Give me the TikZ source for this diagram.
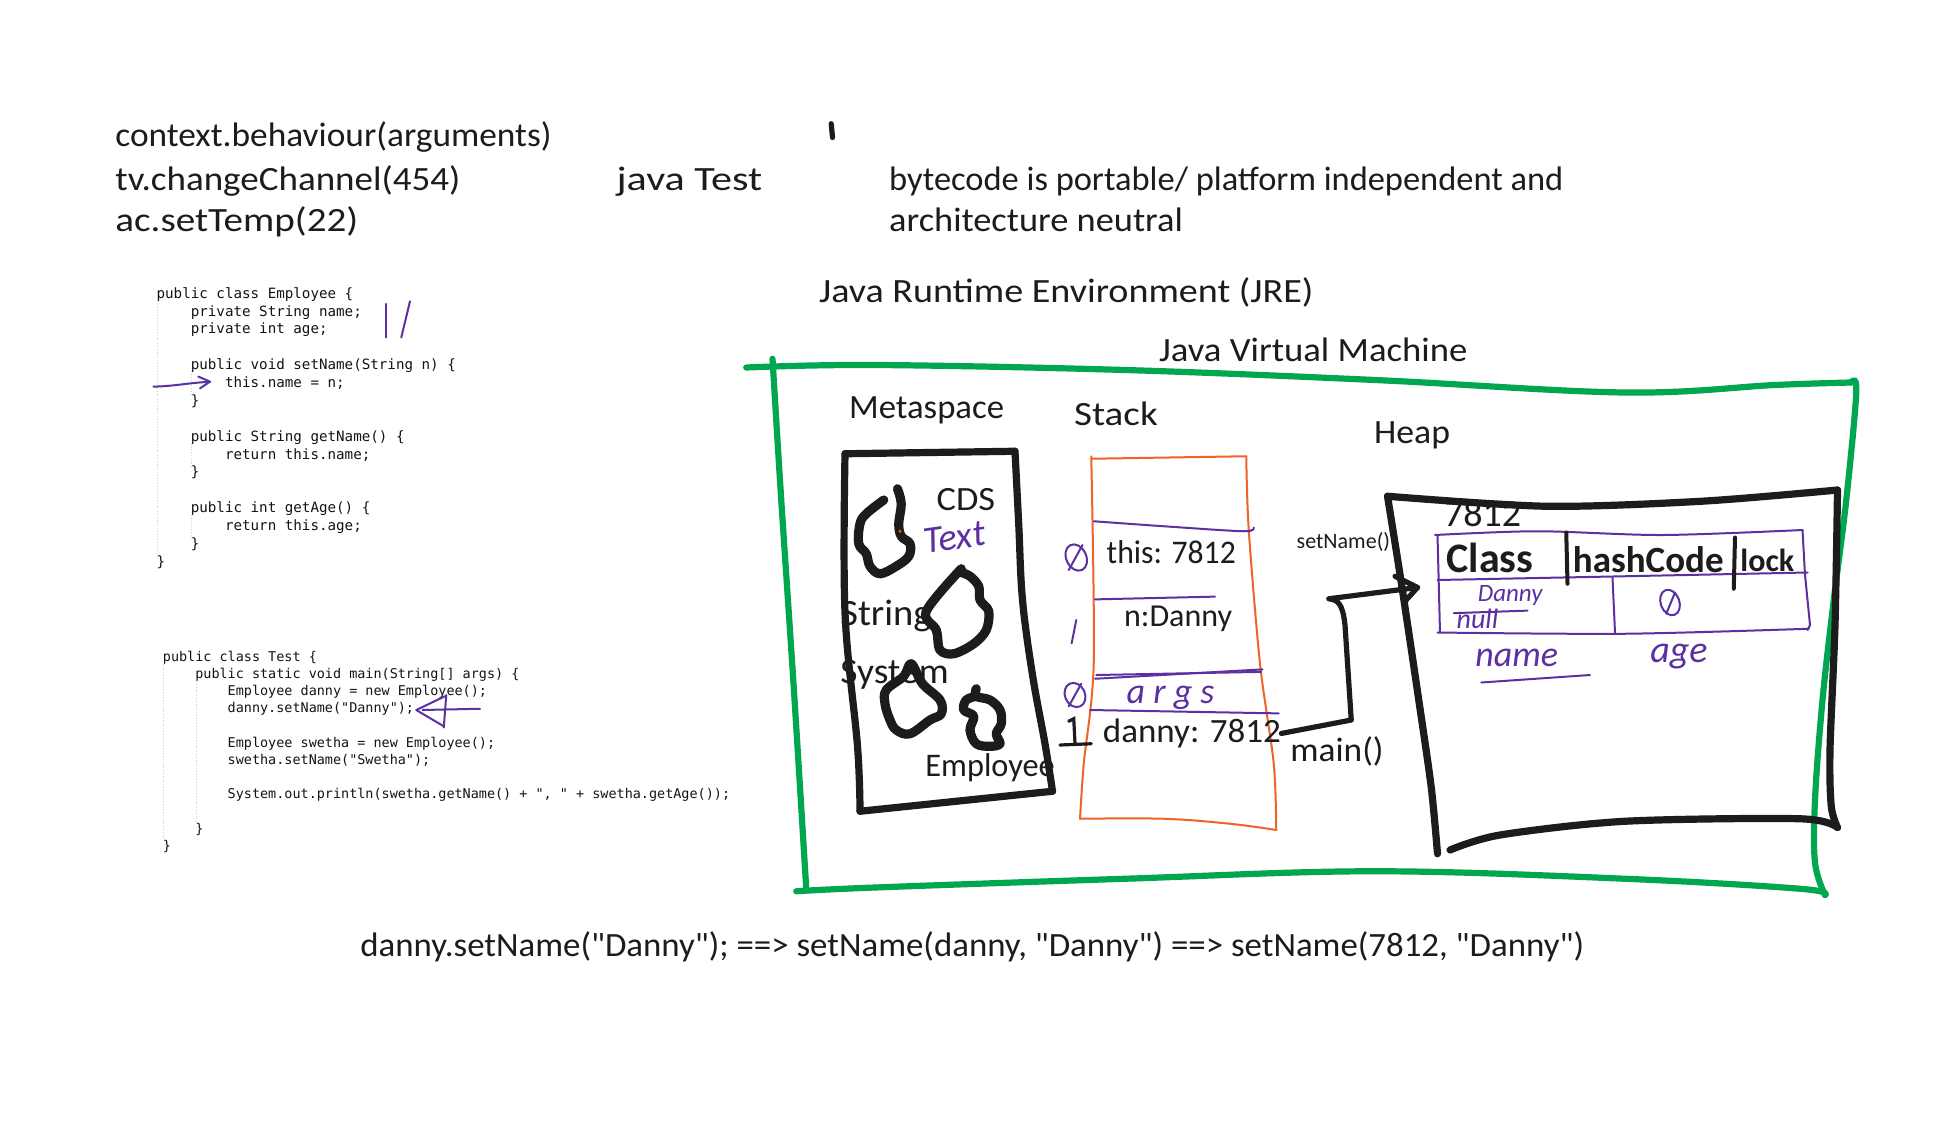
\documentclass[tikz,border=0pt]{standalone}
\usepackage{graphicx}
\usepackage{fontspec}
\setmainfont{Carlito}[Ligatures=TeXOff]
\newfontfamily\codefont{DejaVu Sans Mono}
\newcommand\sx[2]{\scalebox{#1}[1]{#2}}
\definecolor{ink}{RGB}{28,28,28}
\definecolor{codeink}{RGB}{20,20,20}
\definecolor{jvmgreen}{RGB}{0,166,80}
\definecolor{penpurple}{RGB}{92,48,160}
\definecolor{penorange}{RGB}{242,98,38}
\begin{document}
\begin{tikzpicture}[x=0.625pt,y=-0.625pt,
  hw/.style={font=\fontsize{17}{20}\selectfont,text=ink,inner sep=0pt,anchor=base west},
  hwp/.style={font=\fontsize{17}{20}\selectfont\itshape,text=penpurple,inner sep=0pt,anchor=base west},
  codeblk/.style={text=codeink,align=left,inner sep=0pt,anchor=north west},
  guide/.style={draw=gray!40,densely dotted,line width=0.4pt},
  jvmline/.style={draw=jvmgreen,line width=3.1pt,line cap=round,line join=round},
  blackbox/.style={draw=ink,line width=3.6pt,line cap=round,line join=round},
  blob/.style={draw=ink,line width=4.6pt,line cap=round,line join=round},
  stackline/.style={draw=penorange,line width=1pt,line cap=round,line join=round},
  pen/.style={draw=penpurple,line width=1pt,line cap=round,line join=round},
  conn/.style={draw=ink,line width=2.6pt,line cap=round,line join=round}]
\useasboundingbox (0,0) rectangle (1568,900);
\fill[white] (0,0) rectangle (1568,900);

% ---------- top notes ----------
\node[hw] (t1) at (92,117) {\sx{1.04}{context.behaviour(arguments)}};
\node[hw] (t2) at (92,152) {\sx{1.09}{tv.changeChannel(454)}};
\node[hw] (t3) at (92,185) {\sx{1.15}{ac.setTemp(22)}};
\node[hw] (jt) at (493,152) {\sx{1.24}{java Test}};
\draw[ink,line width=2.6pt,line cap=round] (665,99) -- (666,110);
\node[hw] (bc1) at (711,152) {\sx{1.013}{bytecode is portable/ platform independent and}};
\node[hw] (bc2) at (711,185) {\sx{1.07}{architecture neutral}};
\node[hw] (jre) at (655,242) {\sx{1.12}{Java Runtime Environment (JRE)}};

% ---------- code block 1 ----------
\draw[guide] (126,241) -- (126,446);
\draw[guide] (153,297) -- (153,317);
\draw[guide] (153,355) -- (153,374);
\draw[guide] (153,412) -- (153,431);
\node[codeblk,font=\codefont\fontsize{7.1}{8.94}\selectfont] (code1) at (125,229.5) {%
public class Employee \{\\
~~~~private String name;\\
~~~~private int age;\\[8.94pt]
~~~~public void setName(String n) \{\\
~~~~~~~~this.name = n;\\
~~~~\}\\[8.94pt]
~~~~public String getName() \{\\
~~~~~~~~return this.name;\\
~~~~\}\\[8.94pt]
~~~~public int getAge() \{\\
~~~~~~~~return this.age;\\
~~~~\}\\
\}};

% ---------- code block 2 ----------
\draw[guide] (131,531) -- (131,672);
\draw[guide] (157,545) -- (157,658);
\node[codeblk,font=\codefont\fontsize{6.73}{8.6}\selectfont] (code2) at (130,520.3) {%
public class Test \{\\
~~~~public static void main(String[] args) \{\\
~~~~~~~~Employee danny = new Employee();\\
~~~~~~~~danny.setName("Danny");\\[8.6pt]
~~~~~~~~Employee swetha = new Employee();\\
~~~~~~~~swetha.setName("Swetha");\\[8.6pt]
~~~~~~~~System.out.println(swetha.getName() + ", " + swetha.getAge());\\[8.6pt]
~~~~\}\\
\}};

% purple marks on code
\draw[pen] (309,243) -- (309,270);
\draw[pen] (328,241) -- (321,270);
\draw[pen] (122.7,309.3) .. controls (140,309) and (152,306) .. (168,305.5);
\draw[pen] (158.7,301.3) -- (168,305.3) -- (160,310.7);
\draw[pen] (384,567) -- (338,568);
\draw[pen] (356,557) -- (333,568) -- (355,581);
\draw[pen] (357,556) -- (355,582);

% ---------- JVM frame ----------
\node[hw] (jvm) at (927,289) {\sx{1.08}{Java Virtual Machine}};
\draw[jvmline] plot[smooth,tension=0.6] coordinates {(597,294) (700,292) (900,296) (1100,304) (1300,314) (1420,308) (1481,306)};
\draw[jvmline] plot[smooth,tension=0.6] coordinates {(1481,306) (1485,314) (1477,400) (1467,480) (1458,560) (1452,640) (1452,690) (1460,716)};
\draw[jvmline] plot[smooth,tension=0.6] coordinates {(1460,716) (1440,711) (1300,703) (1100,697) (900,703) (700,710) (637,713)};
\draw[jvmline] plot[smooth,tension=0.6] coordinates {(618,287) (625,400) (635,550) (645,711)};

\node[hw] (meta) at (679,335) {\sx{1.02}{Metaspace}};
\node[hw] (stk) at (859,340) {\sx{1.15}{Stack}};
\node[hw] (heap) at (1099,355) {\sx{1.05}{Heap}};

% ---------- Metaspace ----------
\draw[blackbox] (676,363) -- (812,361);
\draw[blackbox] plot[smooth,tension=0.6] coordinates {(812,361) (815,420) (818,480) (826,540) (836,595) (842,633)};
\draw[blackbox] (842,633) -- (688,649);
\draw[blackbox] plot[smooth,tension=0.6] coordinates {(688,649) (686,597) (676,490) (676,363)};

\draw[blob] plot[smooth,tension=0.6] coordinates {(718,391) (721,403) (719,419) (721,429) (728,435) (727,445) (717,453) (704,459) (696,453) (693,443) (687,435) (688,419) (693,411) (707,400)};
\fill[penorange] (720,425) circle (1.3);
\draw[blob] plot[smooth,tension=0.55] coordinates {(769,455) (741,489) (749,504) (752,520) (763,523) (779,515) (789,504) (791,489) (784,480) (783,469) (776,461) (769,458)};
\draw[blob] plot[smooth cycle,tension=0.6] coordinates {(729,531) (738,547) (752,560) (753,571) (744,576) (728,587) (717,584) (712,576) (708,563) (709,552) (723,541)};
\draw[blob] plot[smooth,tension=0.6] coordinates {(781,551) (781,557) (792,560) (800,568) (801,579) (797,587) (800,595) (792,597) (781,595) (776,584) (779,573) (771,568) (773,560) (781,557)};

\node[hw] (cds) at (749,408) {\sx{1.07}{CDS}};
\node[hwp,font=\fontsize{19}{20}\selectfont\itshape,rotate=8] (txt) at (740,443) {Text};
\node[hw,font=\fontsize{18.5}{20}\selectfont] (str) at (672,500) {\sx{1.04}{String}};
\node[hw,font=\fontsize{18}{20}\selectfont] (sys) at (672,547) {\sx{1.04}{System}};
\node[hw,font=\fontsize{16.5}{20}\selectfont] (emp) at (740,621) {\sx{0.98}{Employee}};

% ---------- Stack ----------
\draw[stackline] (873,367) -- (997,365);
\draw[stackline] plot[smooth,tension=0.5] coordinates {(997,365) (999,424) (1008,531) (1019,611) (1021,664)};
\draw[stackline] plot[smooth,tension=0.6] coordinates {(1021,664) (984,659) (931,655) (864,655)};
\draw[stackline] plot[smooth,tension=0.5] coordinates {(864,655) (867,611) (875,530) (873,365)};

\draw[pen] plot[smooth,tension=0.5] coordinates {(875,417) (931,421) (995,425) (1003,422)};
\draw[pen] (876,479.5) -- (972,477.3);
\draw[pen] (876,543) -- (1010,535.5);
\draw[pen] (877,540) -- (1009,537.5);
\draw[pen] (872,568) -- (1023,570.7);

\node[hw,font=\fontsize{16.5}{20}\selectfont] (this) at (885,451) {\sx{0.96}{this: 7812}};
\node[hw,font=\fontsize{16}{20}\selectfont] (nd) at (899,501) {n:Danny};
\node[hwp,font=\fontsize{18}{20}\selectfont\itshape] (args) at (901,563) {a r g s};
\node[hw] (dn) at (882,594) {\sx{1.03}{danny: 7812}};

% purple slot numbers
\draw[pen,rotate around={25:(861,446)}] (861,446) ellipse (8 and 11);
\draw[pen] (855,456) -- (866,436);
\draw[pen] (861,496) -- (857.3,514.7);
\draw[pen,rotate around={25:(860,556)}] (860,556) ellipse (8 and 10);
\draw[pen] (855,565) -- (865,547);
\draw[ink,line width=1.6pt,line cap=round] (855,577) -- (859,575) -- (860,595);
\draw[ink,line width=1.6pt,line cap=round] (848,596) -- (873,595);

% ---------- Heap ----------
\draw[blackbox] plot[smooth,tension=0.5] coordinates {(1110,397) (1237,405) (1361,401) (1470,392)};
\draw[blackbox] plot[smooth,tension=0.5] coordinates {(1470,392) (1468,500) (1464,600) (1465,645) (1470,662)};
\draw[blackbox] plot[smooth,tension=0.5] coordinates {(1470,662) (1440,655) (1300,657) (1200,668) (1160,680)};
\draw[blackbox] plot[smooth,tension=0.5] coordinates {(1110,397) (1121,466) (1135,560) (1145,630) (1150,683)};

\node[hw,font=\fontsize{19}{20}\selectfont] (addr) at (1155,421) {7812};

% object table
\draw[pen] plot[smooth,tension=0.5] coordinates {(1148,428) (1230,425) (1330,428) (1442,424)};
\draw[pen] (1442,424) -- (1444,460) -- (1448,500) -- (1446,504);
\draw[pen] plot[smooth,tension=0.5] coordinates {(1150,464) (1300,461) (1446,458)};
\draw[pen] plot[smooth,tension=0.5] coordinates {(1150,506) (1300,507) (1447,503)};
\draw[pen] (1150,428) -- (1152,506);
\draw[pen] (1290,462) -- (1292,506);
\draw[ink,line width=2pt,line cap=round] (1253,426) -- (1254,467);
\draw[ink,line width=2pt,line cap=round] (1388,430) -- (1387,471);

\node[hw,font=\fontsize{21}{22}\selectfont\bfseries] (cls) at (1157,458) {Class};
\node[hw,font=\fontsize{18.5}{22}\selectfont\bfseries] (hc) at (1258,458) {hashCode};
\node[hw,font=\fontsize{16}{22}\selectfont\bfseries] (lk) at (1392,457) {lock};

\node[hwp,font=\fontsize{12.5}{14}\selectfont\itshape] (dval) at (1182,481.5) {Danny};
\node[hwp,font=\fontsize{14}{16}\selectfont\itshape] (nul) at (1165,502.5) {null};
\draw[pen] (1163,490.5) -- (1222,488.5);
\draw[pen,rotate around={20:(1336,482)}] (1336,482) ellipse (7.5 and 10.5);
\draw[pen] (1333,491) -- (1340,474);

\node[hwp,font=\fontsize{18}{20}\selectfont\itshape] (nm) at (1180,533) {name};
\draw[pen] (1185,546) -- (1272,540);
\node[hwp,font=\fontsize{19}{20}\selectfont\itshape] (ag) at (1320,530) {age};

% ---------- connector danny -> object ----------
\coordinate (objin) at (1134,470);
\draw[conn] (dn.east) -- (1081,576) -- (1076,500) .. controls (1074,482) and (1070,480) .. (1063,479) -- (objin);
\draw[conn] (1116,461) -- (objin) -- (1124,481);

\node[hw] (mn) at (1032,609) {\sx{1.04}{main()}};
\node[hw,font=\fontsize{11}{12}\selectfont] (sn) at (1037,439) {setName()};

% ---------- bottom line ----------
\node[hw] (eq) at (288,765) {\sx{1.025}{danny.setName("Danny"); ==> setName(danny, "Danny") ==> setName(7812, "Danny")}};
\end{tikzpicture}
\end{document}
